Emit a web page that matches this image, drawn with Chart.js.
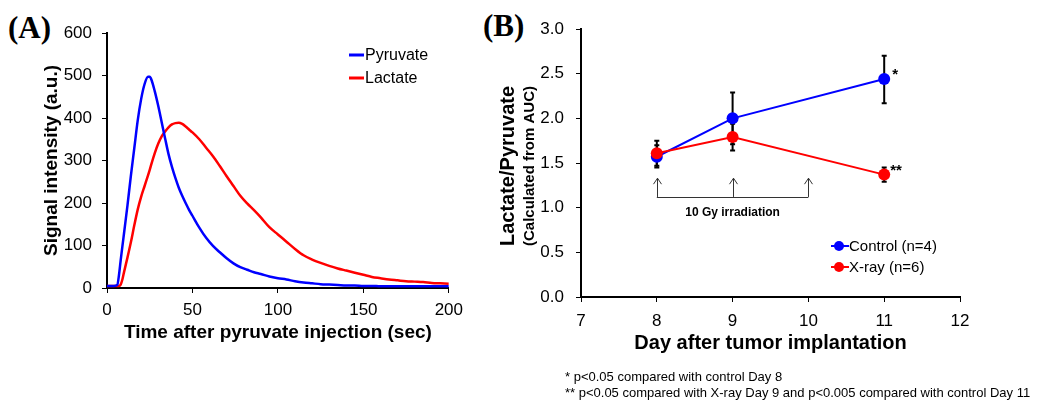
<!DOCTYPE html>
<html>
<head>
<meta charset="utf-8">
<script src="https://cdn.jsdelivr.net/npm/chart.js@4.4.0/dist/chart.umd.min.js"></script>
<style>
body{margin:0;background:#fff;width:1047px;height:400px;position:relative;overflow:hidden;font-family:"Liberation Sans",Arial,sans-serif;color:#000}
canvas{position:absolute;top:0}
#chartA{left:0}
#chartB{left:480px}
.tag{position:absolute;font-family:"Liberation Serif","Times New Roman",serif;font-weight:bold;font-size:31px;line-height:1}
.note{position:absolute;left:565px;font-size:13px;white-space:nowrap;line-height:1}
</style>
</head>
<body>
<div class="tag" style="left:8px;top:12px">(A)</div>
<div class="tag" style="left:483px;top:10px">(B)</div>
<canvas id="chartA" width="470" height="400"></canvas>
<canvas id="chartB" width="567" height="400"></canvas>
<div class="note" style="top:370px">* p&lt;0.05 compared with control Day 8</div>
<div class="note" style="top:386px">** p&lt;0.05 compared with X-ray Day 9 and p&lt;0.005 compared with control Day 11</div>
<script>
// (A) signal curves
const timeSec = [0, 2, 4, 6, 7, 8, 9, 10, 12, 14, 16, 18, 20, 22, 24, 25, 26, 28, 30, 32, 34, 36, 38, 40, 42, 44, 46, 48, 50,
  54, 58, 62, 66, 70, 74, 78, 82, 86, 90, 95, 100, 105, 110, 115, 120, 125, 130, 135, 140, 145, 150, 155, 160, 165, 170,
  175, 180, 185, 190, 195, 200];
const pyruvate = [5, 5, 5, 7, 30, 65, 98, 130, 195, 265, 330, 395, 445, 480, 497, 497, 490, 462, 428, 390, 352, 315, 285, 259, 236, 217, 200, 184, 170,
  142, 118, 99, 84, 70, 58, 49, 43, 37, 33, 27, 23, 20, 16, 13, 11, 9, 8, 7, 6, 6, 5, 5, 4, 4, 4,
  4, 4, 4, 4, 4, 4];
const lactate = [5, 5, 5, 5, 5, 8, 20, 38, 72, 108, 148, 185, 215, 240, 265, 278, 292, 318, 340, 357, 368, 378, 385, 388, 389, 386, 380, 373, 366,
  350, 330, 310, 287, 263, 240, 217, 199, 183, 166, 143, 126, 109, 92, 77, 67, 59, 52, 46, 41, 36, 31, 26, 23, 20, 18,
  16, 15, 14, 12, 11, 10];

// (B) lactate/pyruvate ratio, mean and error bar ends
const days = [8, 9, 11];
const controlMean = [1.57, 2.00, 2.44];
const controlUpper = [1.70, 2.29, 2.70];
const controlLower = [1.45, 1.71, 2.17];
const xrayMean = [1.61, 1.79, 1.37];
const xrayUpper = [1.75, 1.94, 1.45];
const xrayLower = [1.47, 1.64, 1.29];
const irradiationDays = [8, 9, 10];

Chart.defaults.font.family = '"Liberation Sans", Arial, sans-serif';
Chart.defaults.color = '#000';

const FONT = '"Liberation Sans", Arial, sans-serif';

function axis(min, max, step, fontSize, pad, fit) {
  return {
    type: 'linear', min: min, max: max,
    ticks: { stepSize: step, color: '#000', font: { size: fontSize }, padding: pad, maxRotation: 0 },
    grid: { drawOnChartArea: false, drawTicks: true, tickLength: 5, color: '#000', lineWidth: 1 },
    border: { display: true, color: '#000', width: 2 },
    afterFit: fit
  };
}

const panelA = {
  id: 'panelA',
  afterDraw(chart) {
    const ctx = chart.ctx, a = chart.chartArea;
    ctx.save();
    ctx.fillStyle = '#000';
    ctx.textAlign = 'center';
    ctx.textBaseline = 'middle';
    ctx.font = 'bold 19px ' + FONT;
    ctx.fillText('Time after pyruvate injection (sec)', (a.left + a.right) / 2, 333);
    ctx.translate(52, (a.top + a.bottom) / 2);
    ctx.rotate(-Math.PI / 2);
    ctx.fillText('Signal intensity (a.u.)', 0, 0);
    ctx.restore();

    ctx.save();
    ctx.font = '16px ' + FONT;
    ctx.textAlign = 'left';
    ctx.textBaseline = 'middle';
    chart.data.datasets.forEach((ds, i) => {
      const y = 55 + i * 23;
      ctx.strokeStyle = ds.borderColor;
      ctx.lineWidth = 3;
      ctx.beginPath(); ctx.moveTo(349, y); ctx.lineTo(364, y); ctx.stroke();
      ctx.fillStyle = '#000';
      ctx.fillText(ds.label, 365, y + 1);
    });
    ctx.restore();
  }
};

new Chart(document.getElementById('chartA'), {
  type: 'line',
  data: {
    datasets: [
      { label: 'Pyruvate', data: timeSec.map((t, i) => ({ x: t, y: pyruvate[i] })), borderColor: '#0000ff', borderWidth: 2.5, pointRadius: 0, cubicInterpolationMode: 'monotone' },
      { label: 'Lactate', data: timeSec.map((t, i) => ({ x: t, y: lactate[i] })), borderColor: '#ff0000', borderWidth: 2.5, pointRadius: 0, cubicInterpolationMode: 'monotone' }
    ]
  },
  options: {
    responsive: false, animation: false,
    layout: { padding: { left: 0, top: 33, right: 21, bottom: 0 } },
    plugins: { legend: { display: false }, tooltip: { enabled: false } },
    scales: {
      x: axis(0, 200, 50, 17, 7, s => { s.height = 112; }),
      y: axis(0, 600, 100, 17, 10, s => { s.width = 107; })
    }
  },
  plugins: [panelA]
});

const panelB = {
  id: 'panelB',
  beforeDatasetsDraw(chart) {
    const ctx = chart.ctx, x = chart.scales.x, y = chart.scales.y;
    ctx.save();
    ctx.strokeStyle = '#000';
    ctx.lineWidth = 2;
    const bars = [[controlUpper, controlLower], [xrayUpper, xrayLower]];
    bars.forEach(([up, lo]) => {
      days.forEach((d, i) => {
        const px = x.getPixelForValue(d), t = y.getPixelForValue(up[i]), b = y.getPixelForValue(lo[i]);
        ctx.beginPath();
        ctx.moveTo(px, t); ctx.lineTo(px, b);
        ctx.moveTo(px - 2.5, t); ctx.lineTo(px + 2.5, t);
        ctx.moveTo(px - 2.5, b); ctx.lineTo(px + 2.5, b);
        ctx.stroke();
      });
    });
    ctx.restore();

    // irradiation arrows
    ctx.save();
    ctx.strokeStyle = '#333';
    ctx.lineWidth = 1;
    const yTop = y.getPixelForValue(1.33), yBase = y.getPixelForValue(1.12);
    ctx.beginPath();
    irradiationDays.forEach(d => {
      const px = Math.round(x.getPixelForValue(d)) + 0.5;
      ctx.moveTo(px, yBase); ctx.lineTo(px, yTop);
      ctx.moveTo(px - 4, yTop + 6); ctx.lineTo(px, yTop); ctx.lineTo(px + 4, yTop + 6);
    });
    const x0 = x.getPixelForValue(irradiationDays[0]), x1 = x.getPixelForValue(irradiationDays[irradiationDays.length - 1]);
    ctx.moveTo(x0, Math.round(yBase) + 0.5); ctx.lineTo(x1, Math.round(yBase) + 0.5);
    ctx.stroke();
    ctx.fillStyle = '#000';
    ctx.font = 'bold 12px ' + FONT;
    ctx.textAlign = 'center';
    ctx.textBaseline = 'middle';
    ctx.fillText('10 Gy irradiation', x.getPixelForValue(9), yBase + 16);
    ctx.restore();
  },
  afterDraw(chart) {
    const ctx = chart.ctx, a = chart.chartArea, x = chart.scales.x, y = chart.scales.y;
    ctx.save();
    ctx.fillStyle = '#000';
    ctx.textAlign = 'center';
    ctx.textBaseline = 'middle';
    ctx.font = 'bold 20px ' + FONT;
    ctx.fillText('Day after tumor implantation', (a.left + a.right) / 2, 343);
    ctx.save();
    ctx.translate(28, 166);
    ctx.rotate(-Math.PI / 2);
    ctx.fillText('Lactate/Pyruvate', 0, 0);
    ctx.font = 'bold 15px ' + FONT;
    ctx.fillText('(Calculated from AUC)', 0, 22);
    ctx.restore();

    // significance marks
    ctx.font = 'bold 15px ' + FONT;
    ctx.textAlign = 'left';
    ctx.fillText('*', x.getPixelForValue(days[2]) + 8, y.getPixelForValue(controlMean[2]) - 4);
    ctx.fillText('**', x.getPixelForValue(days[2]) + 6, y.getPixelForValue(xrayMean[2]) - 4);

    // legend
    ctx.font = '15px ' + FONT;
    ctx.textBaseline = 'middle';
    chart.data.datasets.forEach((ds, i) => {
      const ly = 246 + i * 21;
      ctx.strokeStyle = ds.borderColor;
      ctx.lineWidth = 2;
      ctx.beginPath(); ctx.moveTo(351, ly); ctx.lineTo(369, ly); ctx.stroke();
      ctx.fillStyle = ds.borderColor;
      ctx.beginPath(); ctx.arc(359, ly, 5, 0, Math.PI * 2); ctx.fill();
      ctx.fillStyle = '#000';
      ctx.fillText(ds.label, 369, ly + 1);
    });
    ctx.restore();
  }
};

const yAxisB = axis(0, 3, 0.5, 17, 12, s => { s.width = 101; });
yAxisB.ticks.callback = v => v.toFixed(1);

new Chart(document.getElementById('chartB'), {
  type: 'line',
  data: {
    datasets: [
      { label: 'Control (n=4)', data: days.map((d, i) => ({ x: d, y: controlMean[i] })), borderColor: '#0000ff', backgroundColor: '#0000ff',
        borderWidth: 2, pointRadius: 6, pointBorderWidth: 0, order: 1 },
      { label: 'X-ray (n=6)', data: days.map((d, i) => ({ x: d, y: xrayMean[i] })), borderColor: '#ff0000', backgroundColor: '#ff0000',
        borderWidth: 2, pointRadius: 6, pointBorderWidth: 0, order: 0 }
    ]
  },
  options: {
    responsive: false, animation: false,
    layout: { padding: { left: 0, top: 29, right: 87, bottom: 0 } },
    plugins: { legend: { display: false }, tooltip: { enabled: false } },
    scales: {
      x: axis(7, 12, 1, 17, 9, s => { s.height = 103; }),
      y: yAxisB
    }
  },
  plugins: [panelB]
});
</script>
</body>
</html>
